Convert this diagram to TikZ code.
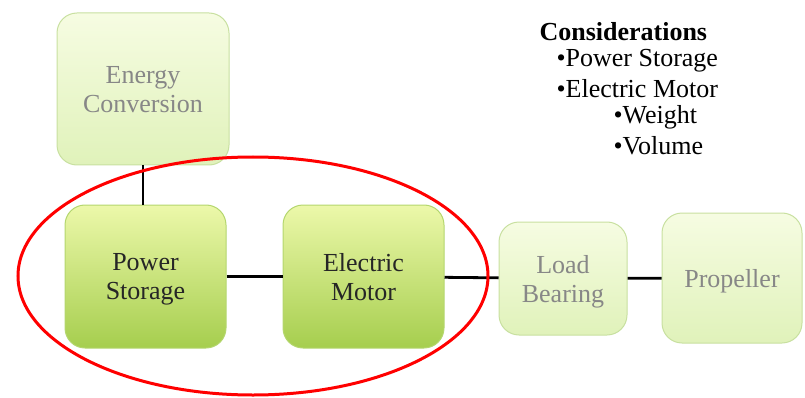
\documentclass[tikz,border=0pt]{standalone}
\usepackage{fontspec}
\setmainfont{Liberation Serif}
\usetikzlibrary{positioning}

\definecolor{paleedge}{RGB}{200,224,160}
\definecolor{paletop}{RGB}{246,252,226}
\definecolor{palebot}{RGB}{224,242,186}
\definecolor{brighttop}{RGB}{236,248,170}
\definecolor{brightbot}{RGB}{166,206,78}
\definecolor{brightedge}{RGB}{180,214,110}
\definecolor{fadedtext}{RGB}{135,135,135}

\begin{document}
\begin{tikzpicture}[x=1pt,y=-1pt,
    font=\fontsize{26}{29}\selectfont,
    block/.style={rectangle,rounded corners=20pt,align=center,draw=paleedge,
      line width=1pt,top color=paletop,bottom color=palebot,text=fadedtext,
      text depth=0pt},
    active/.style={block,draw=brightedge,top color=brighttop,
      bottom color=brightbot,text=black!85},
    link/.style={line width=2.8pt,black}]
  \useasboundingbox (0,0) rectangle (805,398);
  %
  \node[block,minimum width=172pt,minimum height=152pt] (ec) at (143,89)
       {Energy\\Conversion};
  \node[active,minimum width=161pt,minimum height=143pt] (ps) at (145.5,276.5)
       {Power\\Storage};
  \node[active,minimum width=161pt,minimum height=143pt] (em) at (363.5,276.5)
       {Electric\\Motor};
  \node[block,minimum width=128pt,minimum height=113pt] (lb) at (563,278.5)
       {Load\\Bearing};
  \node[block,minimum width=140pt,minimum height=130pt] (pr) at (732,278)
       {Propeller};
  %
  \draw[link] (ec.south) -- (ec.south |- ps.north);
  \draw[link] (ps) -- (em);
  \draw[link] (em) -- (lb);
  \draw[link] (lb) -- (pr);
  %
  \draw[red,line width=3pt] (253,276) ellipse [x radius=235,y radius=119];
  %
  \node[anchor=west,font=\fontsize{26}{29}\selectfont\bfseries] (title)
       at (536,32) {Considerations};
  \node[anchor=west] (c1) at (553,61) {•Power Storage};
  \node[anchor=west] (c2) at (553,89) {•Electric Motor};
  \node[anchor=west] (c3) at (610,117) {•Weight};
  \node[anchor=west] (c4) at (610,146) {•Volume};
\end{tikzpicture}
\end{document}
